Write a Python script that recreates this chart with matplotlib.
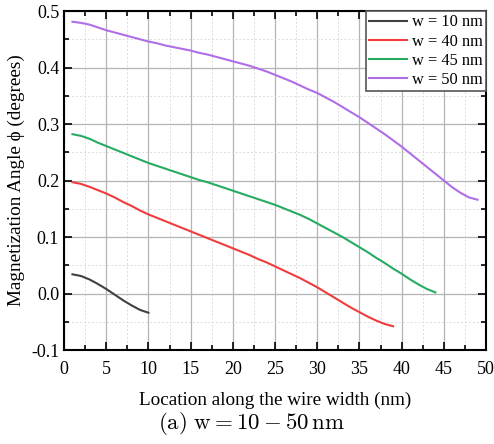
import numpy as np
import matplotlib
matplotlib.use("Agg")
import matplotlib.pyplot as plt
from matplotlib.ticker import MultipleLocator, FormatStrFormatter

plt.rcParams['font.family'] = ['Liberation Serif', 'DejaVu Serif']
plt.rcParams['mathtext.fontset'] = 'cm'
plt.rcParams['axes.unicode_minus'] = False

x10 = list(range(1, 11))
y10 = [0.034, 0.031, 0.025, 0.017, 0.008, -0.002, -0.012, -0.021, -0.029, -0.034]

x40 = list(range(1, 40))
y40 = [0.197, 0.194, 0.189, 0.183, 0.177, 0.170, 0.162, 0.155, 0.147, 0.140,
       0.134, 0.128, 0.122, 0.116, 0.110, 0.104, 0.098, 0.092, 0.086, 0.080,
       0.074, 0.068, 0.061, 0.055, 0.048, 0.041, 0.034, 0.027, 0.019, 0.011,
       0.002, -0.007, -0.016, -0.025, -0.033, -0.041, -0.048, -0.054, -0.058]

x45 = list(range(1, 45))
y45 = [0.282, 0.279, 0.274, 0.267, 0.261, 0.255, 0.249, 0.243, 0.237, 0.231,
       0.226, 0.221, 0.216, 0.211, 0.206, 0.201, 0.197, 0.192, 0.187, 0.182,
       0.177, 0.172, 0.167, 0.162, 0.157, 0.151, 0.145, 0.139, 0.132, 0.124,
       0.116, 0.108, 0.100, 0.091, 0.082, 0.073, 0.063, 0.054, 0.044, 0.035,
       0.025, 0.016, 0.008, 0.002]

x50 = list(range(1, 50))
y50 = [0.481, 0.479, 0.476, 0.471, 0.466, 0.462, 0.458, 0.454, 0.450, 0.446,
       0.443, 0.439, 0.436, 0.433, 0.430, 0.426, 0.423, 0.419, 0.415, 0.411,
       0.407, 0.403, 0.398, 0.393, 0.387, 0.381, 0.375, 0.368, 0.361, 0.355,
       0.347, 0.339, 0.330, 0.321, 0.312, 0.302, 0.292, 0.282, 0.271, 0.260,
       0.248, 0.236, 0.224, 0.212, 0.200, 0.188, 0.178, 0.170, 0.166]

labels = ['w = 10 nm', 'w = 40 nm', 'w = 45 nm', 'w = 50 nm']
colors = ['#404040', '#f03c3c', '#27ab62', '#b06ee6']

fig = plt.figure(figsize=(4.94, 4.44), dpi=100)
ax = fig.add_axes([0.1296, 0.2117, 0.8542, 0.7635])

for xs, ys, lab, c in zip([x10, x40, x45, x50], [y10, y40, y45, y50], labels, colors):
    ax.plot(xs, ys, color=c, lw=1.5, label=lab)

ax.set_xlim(0, 50)
ax.set_ylim(-0.1, 0.5)
ax.xaxis.set_major_locator(MultipleLocator(5))
ax.xaxis.set_minor_locator(MultipleLocator(2.5))
ax.yaxis.set_major_locator(MultipleLocator(0.1))
ax.yaxis.set_minor_locator(MultipleLocator(0.05))
ax.yaxis.set_major_formatter(FormatStrFormatter('%.1f'))

ax.grid(True, which='major', color='#b4b4b4', lw=0.9, ls='-')
ax.grid(True, which='minor', color='#dcdcdc', lw=0.7, ls=(0, (2, 2)))
ax.set_axisbelow(True)

ax.tick_params(which='both', direction='in', top=True, right=True, labelsize=13, width=1.2)
ax.tick_params(which='major', length=6)
ax.tick_params(which='minor', length=3.5)
ax.tick_params(axis='x', pad=8)
for s in ax.spines.values():
    s.set_linewidth(1.5)
    s.set_color('black')

ax.set_xlabel('Location along the wire width (nm)', fontsize=13.8, labelpad=10)
ax.set_ylabel('Magnetization Angle ϕ (degrees)', fontsize=13.8)

leg = ax.legend(loc='upper right', fontsize=11.8, handlelength=2.3, handletextpad=0.3,
                borderpad=0.2, labelspacing=0.2, borderaxespad=0.0, fancybox=False,
                framealpha=1, edgecolor='#555555')
leg.get_frame().set_linewidth(1.2)

fig.text(0.508, 0.047, r'$\mathrm{(a)\ w = 10 - 50\,nm}$', fontsize=16.5, ha='center', va='center')

fig.savefig('out.png', dpi=100)
